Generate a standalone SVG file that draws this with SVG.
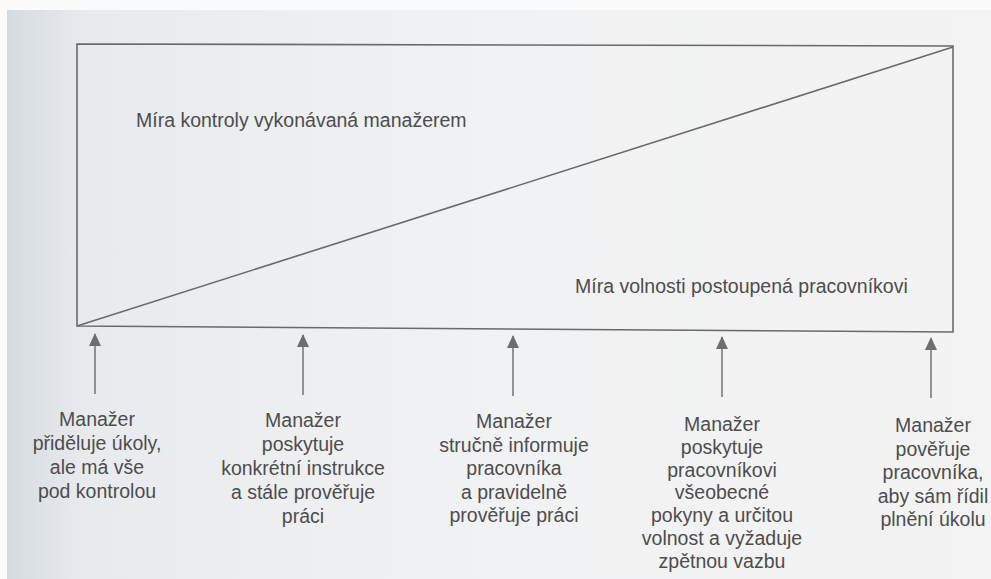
<svg xmlns="http://www.w3.org/2000/svg" width="991" height="579" viewBox="0 0 991 579">
<defs>
<linearGradient id="bg" x1="0" y1="0" x2="1" y2="0">
<stop offset="0" stop-color="#d6dbe0"/>
<stop offset="0.08" stop-color="#e8ebee"/>
<stop offset="0.5" stop-color="#f1f2f3"/>
<stop offset="1" stop-color="#f3f3f3"/>
</linearGradient>
<marker id="ah" viewBox="0 0 13 12" refX="12" refY="6" markerWidth="13" markerHeight="12" markerUnits="userSpaceOnUse" orient="auto">
<path d="M0,0 L13,6 L0,12 Z" fill="#6e6e6e"/>
</marker>
<style>
.t{font-family:"Liberation Sans",Arial,sans-serif;font-size:19.5px;fill:#4d4d4d;}
.c{text-anchor:middle;}
.ln{stroke:#6a6a6a;stroke-width:1.6;fill:none;}
.ar{stroke:#7a7a7a;stroke-width:1.6;fill:none;}
</style>
</defs>
<rect x="0" y="0" width="991" height="579" fill="#fbfbfb"/>
<rect x="7" y="10" width="984" height="569" fill="url(#bg)"/>
<g id="chart">
<polygon points="77,44 953,46 953,332 77,326" fill="#f8f8f8" class="ln"/>
<line x1="77" y1="326" x2="953" y2="47" class="ln"/>
<text class="t" x="136" y="127">Míra kontroly vykonávaná manažerem</text>
<text class="t" x="575" y="293">Míra volnosti postoupená pracovníkovi</text>
</g>
<g id="connectors">
<line class="ar" x1="95" y1="394" x2="95" y2="334" marker-end="url(#ah)"/>
<line class="ar" x1="303" y1="395" x2="303" y2="335" marker-end="url(#ah)"/>
<line class="ar" x1="513" y1="396" x2="513" y2="336" marker-end="url(#ah)"/>
<line class="ar" x1="722" y1="397" x2="722" y2="337" marker-end="url(#ah)"/>
<line class="ar" x1="931" y1="398" x2="931" y2="338" marker-end="url(#ah)"/>
</g>
<g id="n1"><text class="t c" x="97" y="426"><tspan x="97">Manažer</tspan><tspan x="97" dy="24">přiděluje úkoly,</tspan><tspan x="97" dy="24">ale má vše</tspan><tspan x="97" dy="24">pod kontrolou</tspan></text></g>
<g id="n2"><text class="t c" x="303" y="427"><tspan x="303">Manažer</tspan><tspan x="303" dy="24">poskytuje</tspan><tspan x="303" dy="24">konkrétní instrukce</tspan><tspan x="303" dy="24">a stále prověřuje</tspan><tspan x="303" dy="24">práci</tspan></text></g>
<g id="n3"><text class="t c" x="514" y="428"><tspan x="514">Manažer</tspan><tspan x="514" dy="23.5">stručně informuje</tspan><tspan x="514" dy="23.5">pracovníka</tspan><tspan x="514" dy="23.5">a pravidelně</tspan><tspan x="514" dy="23.5">prověřuje práci</tspan></text></g>
<g id="n4"><text class="t c" x="722" y="431"><tspan x="722">Manažer</tspan><tspan x="722" dy="22.8">poskytuje</tspan><tspan x="722" dy="22.8">pracovníkovi</tspan><tspan x="722" dy="22.8">všeobecné</tspan><tspan x="722" dy="22.8">pokyny a určitou</tspan><tspan x="722" dy="22.8">volnost a vyžaduje</tspan><tspan x="722" dy="22.8">zpětnou vazbu</tspan></text></g>
<g id="n5"><text class="t c" x="933" y="432"><tspan x="933">Manažer</tspan><tspan x="933" dy="23.5">pověřuje</tspan><tspan x="933" dy="23.5">pracovníka,</tspan><tspan x="933" dy="23.5">aby sám řídil</tspan><tspan x="933" dy="23.5">plnění úkolu</tspan></text></g>
</svg>
